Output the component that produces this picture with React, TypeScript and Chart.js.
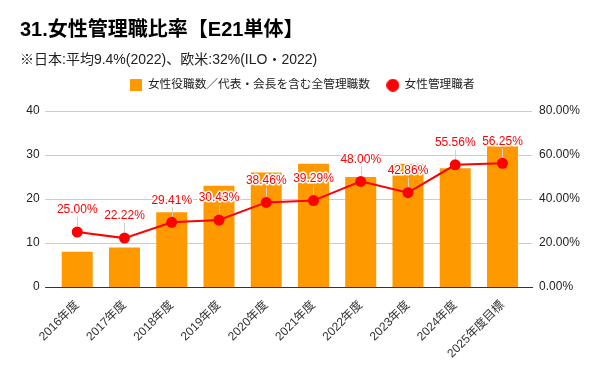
import React, { useEffect, useRef } from "react";
import { Chart, registerables } from "chart.js";

Chart.register(...registerables);

const TITLE = "31.女性管理職比率【E21単体】";
const SUBTITLE = "※日本:平均9.4%(2022)、欧米:32%(ILO・2022)";
const categories = [
  "2016年度", "2017年度", "2018年度", "2019年度", "2020年度",
  "2021年度", "2022年度", "2023年度", "2024年度", "2025年度目標",
];
const barLabel = "女性役職数／代表・会長を含む全管理職数";
const lineLabel = "女性管理職者";
const barValues = [8, 9, 17, 23, 26, 28, 25, 28, 27, 32];
const ratioValues = [25.0, 22.22, 29.41, 30.43, 38.46, 39.29, 48.0, 42.86, 55.56, 56.25];

const FONT = "'Liberation Sans', Arial, 'Noto Sans CJK JP', sans-serif";
const ORANGE = "#ff9900";
const RED = "#ff0000";

function makeSwatch(kind: "rect" | "circle", color: string, size: number) {
  const c = document.createElement("canvas");
  c.width = size;
  c.height = size;
  const g = c.getContext("2d")!;
  g.fillStyle = color;
  if (kind === "rect") {
    g.fillRect(0, 0, size, size);
  } else {
    g.beginPath();
    g.arc(size / 2, size / 2, size / 2, 0, Math.PI * 2);
    g.fill();
  }
  return c;
}

const gridPlugin = {
  id: "extGrid",
  beforeDatasetsDraw(chart: any) {
    const { ctx, chartArea } = chart;
    const scale = chart.scales.y;
    ctx.save();
    ctx.lineWidth = 1;
    scale.ticks.forEach((t: any) => {
      const y = Math.round(scale.getPixelForValue(t.value)) + 0.5;
      ctx.strokeStyle = t.value === 0 ? "#333333" : "#cccccc";
      ctx.beginPath();
      ctx.moveTo(chartArea.left - 8.5, y);
      ctx.lineTo(chartArea.right + (t.value === 0 ? 7 : 6), y);
      ctx.stroke();
    });
    ctx.restore();
  },
};

const labelPlugin = {
  id: "pointLabels",
  afterDatasetsDraw(chart: any) {
    const meta = chart.getDatasetMeta(1);
    const ctx = chart.ctx;
    ctx.save();
    ctx.font = `12px ${FONT}`;
    ctx.textAlign = "center";
    ctx.textBaseline = "middle";
    meta.data.forEach((pt: any, i: number) => {
      const { x, y } = pt.getProps(["x", "y"], true);
      const ly = y - 22;
      const txt = ratioValues[i].toFixed(2) + "%";
      ctx.strokeStyle = "#cfcfcf";
      ctx.lineWidth = 1;
      ctx.beginPath();
      ctx.moveTo(Math.round(x) + 0.5, ly + 7);
      ctx.lineTo(Math.round(x) + 0.5, y - 6);
      ctx.stroke();
      ctx.lineWidth = 3;
      ctx.lineJoin = "round";
      ctx.strokeStyle = "#ffffff";
      ctx.strokeText(txt, x, ly);
      ctx.fillStyle = RED;
      ctx.fillText(txt, x, ly);
    });
    ctx.restore();
  },
};

export default function App() {
  const ref = useRef<HTMLCanvasElement | null>(null);

  useEffect(() => {
    document.body.style.margin = "0";
    if (!ref.current) return;
    const rectSw = makeSwatch("rect", ORANGE, 12);
    const circSw = makeSwatch("circle", RED, 13);
    const chart = new Chart(ref.current, {
      data: {
        labels: categories,
        datasets: [
          {
            type: "bar",
            label: barLabel,
            data: barValues,
            backgroundColor: ORANGE,
            yAxisID: "y",
            order: 1,
            barPercentage: 0.656,
            categoryPercentage: 1,
          },
          {
            type: "line",
            label: lineLabel,
            data: ratioValues,
            borderColor: RED,
            backgroundColor: RED,
            borderWidth: 2,
            pointRadius: 5.5,
            pointBorderWidth: 0,
            pointBackgroundColor: RED,
            yAxisID: "y1",
            order: 0,
          },
        ],
      } as any,
      options: {
        responsive: false,
        animation: false,
        devicePixelRatio: 1,
        layout: { padding: { left: 20, right: 15, top: 0, bottom: 0 } },
        plugins: {
          tooltip: { enabled: false },
          title: {
            display: true,
            text: TITLE,
            align: "start",
            color: "#000000",
            font: { family: FONT, size: 20, weight: "bold", lineHeight: 1.2 },
            padding: { top: 18, bottom: 0 },
          },
          subtitle: {
            display: true,
            text: SUBTITLE,
            align: "start",
            color: "#222222",
            font: { family: FONT, size: 14, lineHeight: 1.2 },
            padding: { top: 9.6, bottom: -6 },
          },
          legend: {
            display: true,
            position: "top",
            labels: {
              usePointStyle: true,
              padding: 17,
              color: "#222222",
              font: { family: FONT, size: 11.7 },
              generateLabels: (ch: any) => {
                const base = Chart.defaults.plugins.legend.labels.generateLabels(ch);
                return base
                  .map((it: any) => ({
                    ...it,
                    pointStyle: it.datasetIndex === 0 ? rectSw : circSw,
                  }))
                  .sort((a: any, b: any) => a.datasetIndex - b.datasetIndex);
              },
            },
          },
        },
        scales: {
          x: {
            type: "category",
            position: "bottom",
            grid: { display: false },
            border: { display: false },
            ticks: {
              autoSkip: false,
              minRotation: 45,
              maxRotation: 45,
              color: "#333333",
              font: { family: FONT, size: 12 },
            },
            afterFit: (s: any) => {
              s.height = 84;
            },
          },
          spacer: {
            type: "linear",
            position: "top",
            display: true,
            grid: { display: false },
            border: { display: false },
            ticks: { display: false },
            afterFit: (s: any) => {
              s.height = 9.9;
            },
          },
          y: {
            type: "linear",
            position: "left",
            min: 0,
            max: 40,
            grid: { display: false, drawTicks: false },
            border: { display: false },
            ticks: {
              stepSize: 10,
              padding: 14,
              color: "#222222",
              font: { family: FONT, size: 12 },
            },
            afterFit: (s: any) => {
              s.width = 33.6;
            },
          },
          y1: {
            type: "linear",
            position: "right",
            min: 0,
            max: 80,
            grid: { display: false, drawTicks: false },
            border: { display: false },
            ticks: {
              stepSize: 20,
              padding: 13,
              color: "#222222",
              font: { family: FONT, size: 12 },
              callback: (v: any) => Number(v).toFixed(2) + "%",
            },
            afterFit: (s: any) => {
              s.width = 58.9;
            },
          },
        },
      } as any,
      plugins: [gridPlugin, labelPlugin],
    });
    return () => chart.destroy();
  }, []);

  return (
    <div style={{ width: 600, height: 371 }}>
      <canvas ref={ref} width={600} height={371} style={{ display: "block" }} />
    </div>
  );
}
